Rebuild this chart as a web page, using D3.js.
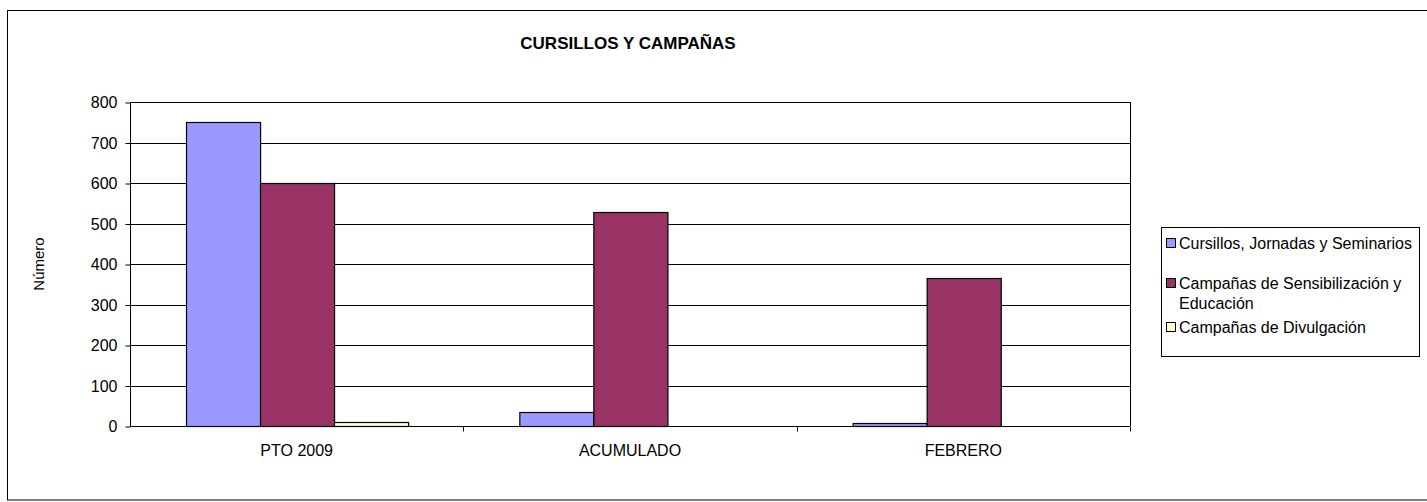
<!DOCTYPE html>
<html>
<head>
<meta charset="utf-8">
<script src="https://cdn.jsdelivr.net/npm/d3@7"></script>
<style>
  body { margin: 0; background: #fff; }
  text { font-family: "Liberation Sans", Arial, sans-serif; fill: #000; }
</style>
</head>
<body>
<svg id="chart" width="1427" height="502"></svg>
<script>
const categories = ['PTO 2009', 'ACUMULADO', 'FEBRERO'];
const seriesNames = ['Cursillos, Jornadas y Seminarios', 'Campañas de Sensibilización y Educación', 'Campañas de Divulgación'];
const cursillos = [750, 35, 7];
const sensibilizacion = [600, 528, 365];
const divulgacion = [10, 0, 0];
const yTicks = [0, 100, 200, 300, 400, 500, 600, 700, 800];
const colors = ['#9999ff', '#993366', '#ffffcc'];

const seriesValues = [cursillos, sensibilizacion, divulgacion];
const FONT = '"Liberation Sans", Arial, sans-serif';

const svg = d3.select('#chart');

// outer chart frame
svg.append('rect')
  .attr('x', 7.5).attr('y', 10.5)
  .attr('width', 1430).attr('height', 489.5)
  .attr('fill', 'none').attr('stroke', '#000').attr('stroke-width', 1);

const plot = { left: 130, right: 1130, top: 102, bottom: 426 };

const x = d3.scaleBand()
  .domain(categories)
  .range([plot.left, plot.right])
  .padding(0);

// bars fill the middle two thirds of each category band
const xInner = d3.scaleBand()
  .domain(d3.range(seriesNames.length))
  .range([x.bandwidth() / 6, x.bandwidth() * 5 / 6]);

const y = d3.scaleLinear()
  .domain([0, 800])
  .range([plot.bottom, plot.top]);

// gridlines
svg.append('g')
  .selectAll('line')
  .data(yTicks.filter(d => d > 0))
  .join('line')
  .attr('x1', plot.left).attr('x2', plot.right)
  .attr('y1', d => Math.round(y(d)) + 0.5).attr('y2', d => Math.round(y(d)) + 0.5)
  .attr('stroke', '#000').attr('stroke-width', 1);

// right border of plot
svg.append('line')
  .attr('x1', plot.right + 0.5).attr('x2', plot.right + 0.5)
  .attr('y1', plot.top).attr('y2', plot.bottom)
  .attr('stroke', '#000');

// bars
const groups = svg.append('g')
  .selectAll('g')
  .data(categories)
  .join('g')
  .attr('transform', d => `translate(${x(d)},0)`);

groups.selectAll('rect')
  .data((d, i) => seriesValues.map((vals, s) => ({ s, v: vals[i] })))
  .join('rect')
  .attr('x', d => Math.round(xInner(d.s)) + 0.5)
  .attr('y', d => Math.round(y(d.v)) + 0.5)
  .attr('width', xInner.bandwidth())
  .attr('height', d => Math.max(0, Math.round(y(0)) - Math.round(y(d.v))))
  .attr('fill', d => colors[d.s])
  .attr('stroke', '#000')
  .attr('stroke-width', 1.2)
  .attr('display', d => d.v > 0 ? null : 'none');

// y axis
const yAxis = svg.append('g')
  .attr('transform', `translate(${plot.left + 0.5},0.5)`)
  .call(d3.axisLeft(y).tickValues(yTicks).tickSize(5).tickPadding(8));
yAxis.select('.domain').attr('d', `M0,${plot.top}V${plot.bottom}`);
yAxis.selectAll('text').style('font-size', '16px').style('font-family', FONT);

// x axis
const xAxis = svg.append('g')
  .attr('transform', `translate(0,${plot.bottom + 0.5})`);
xAxis.append('line')
  .attr('x1', plot.left).attr('x2', plot.right)
  .attr('stroke', '#000');
xAxis.selectAll('.sep')
  .data(categories.map(c => x(c) + x.bandwidth()))
  .join('line')
  .attr('class', 'sep')
  .attr('x1', d => Math.round(d) + 0.5).attr('x2', d => Math.round(d) + 0.5)
  .attr('y1', 0).attr('y2', 5)
  .attr('stroke', '#000');
xAxis.selectAll('.lab')
  .data(categories)
  .join('text')
  .attr('class', 'lab')
  .attr('x', d => x(d) + x.bandwidth() / 2)
  .attr('y', 29)
  .attr('text-anchor', 'middle')
  .style('font-size', '16px')
  .text(d => d);

// title
svg.append('text')
  .attr('x', 628).attr('y', 49)
  .attr('text-anchor', 'middle')
  .style('font-size', '17px')
  .style('font-weight', 'bold')
  .text('CURSILLOS Y CAMPAÑAS');

// y label
svg.append('text')
  .attr('transform', 'translate(44,264) rotate(-90)')
  .attr('text-anchor', 'middle')
  .style('font-size', '15px')
  .text('Número');

// legend
const legend = svg.append('g');
legend.append('rect')
  .attr('x', 1161.5).attr('y', 227.5)
  .attr('width', 258).attr('height', 129)
  .attr('fill', '#fff').attr('stroke', '#000');

const legendItems = [
  { lines: [seriesNames[0]], y: 243 },
  { lines: ['Campañas de Sensibilización y', 'Educación'], y: 283 },
  { lines: [seriesNames[2]], y: 327 }
];
legendItems.forEach((item, i) => {
  legend.append('rect')
    .attr('x', 1166.5).attr('y', item.y - 4.5)
    .attr('width', 9).attr('height', 9)
    .attr('fill', colors[i]).attr('stroke', '#000');
  const t = legend.append('text')
    .attr('x', 1179).attr('y', item.y + 6)
    .style('font-size', '16px');
  item.lines.forEach((ln, j) => {
    t.append('tspan').attr('x', 1179).attr('dy', j === 0 ? 0 : 20).text(ln);
  });
});
</script>
</body>
</html>
